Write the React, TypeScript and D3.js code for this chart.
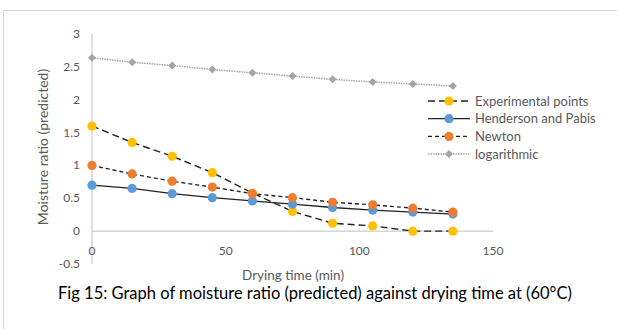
import * as d3 from 'd3';

// --- Data ---
const times = [0, 15, 30, 45, 60, 75, 90, 105, 120, 135];
const experimental = [1.6, 1.35, 1.14, 0.89, 0.58, 0.3, 0.12, 0.08, 0.0, 0.0];
const henderson = [0.7, 0.65, 0.57, 0.51, 0.46, 0.41, 0.36, 0.32, 0.29, 0.26];
const newton = [1.0, 0.87, 0.76, 0.67, 0.57, 0.51, 0.44, 0.4, 0.35, 0.29];
const logarithmic = [2.64, 2.57, 2.52, 2.46, 2.41, 2.36, 2.31, 2.27, 2.24, 2.21];

const yTicks = [-0.5, 0, 0.5, 1, 1.5, 2, 2.5, 3];
const xTicks = [0, 50, 100, 150];

const series = [
    { name: 'Experimental points', values: experimental, color: '#ffc000', dash: '7,4', line: '#222', width: 1.4, marker: 'circle' },
    { name: 'Henderson and Pabis', values: henderson, color: '#5b9bd5', dash: null, line: '#222', width: 1.3, marker: 'circle' },
    { name: 'Newton', values: newton, color: '#ed7d31', dash: '4,3', line: '#222', width: 1.4, marker: 'circle' },
    { name: 'logarithmic', values: logarithmic, color: '#a5a5a5', dash: '1.5,1', line: '#a5a5a5', width: 1.5, marker: 'diamond' },
];

// drawing order: grey first, then experimental, blue, orange on top
const drawOrder = [3, 0, 1, 2];

const font = 'Lato, "Open Sans", sans-serif';
const grey = '#595959';

const Marker = ({ kind, x, y, color }: { kind: string; x: number; y: number; color: string }) => {
    if (kind === 'diamond') {
        const s = 4;
        return <path d={`M${x},${y - s}L${x + s},${y}L${x},${y + s}L${x - s},${y}Z`} fill={color} />;
    }
    return <circle cx={x} cy={y} r={4.6} fill={color} />;
};

export default function App() {
    const x = d3.scaleLinear().domain([0, 150]).range([92, 493]);
    const y = d3.scaleLinear().domain([-0.5, 3]).range([264, 34]);

    const line = d3.line<number>()
        .x((_, i) => x(times[i]))
        .y(d => y(d));

    return (
        <svg width={617} height={329} style={{ position: 'absolute', left: 0, top: 0, background: '#fff' }}
             fontFamily={font}>
            <rect x={3.5} y={10.5} width={640} height={340} fill="#fff" stroke="#d9d9d9" />

            {/* axes */}
            <line x1={x(0)} x2={x(0)} y1={y(3)} y2={y(-0.5)} stroke="#bfbfbf" />
            <line x1={x(0)} x2={x(150)} y1={y(0)} y2={y(0)} stroke="#bfbfbf" />

            {yTicks.map(t => (
                <text key={t} x={80} y={y(t) + 4} textAnchor="end" fontSize={12} fill={grey}>{t}</text>
            ))}
            {xTicks.map(t => (
                <text key={t} x={x(t)} y={255} textAnchor="middle" fontSize={12} fill={grey}>{t}</text>
            ))}

            <text x={293} y={280} textAnchor="middle" fontSize={13.5} fill={grey}>Drying time (min)</text>
            <text transform="translate(48,147) rotate(-90)" textAnchor="middle" fontSize={14} fill={grey}>
                Moisture ratio (predicted)
            </text>

            {/* series */}
            {drawOrder.map(si => {
                const s = series[si];
                return (
                    <g key={s.name}>
                        <path d={line(s.values) || ''} fill="none" stroke={s.line} strokeWidth={s.width}
                              strokeDasharray={s.dash || undefined} />
                        {s.values.map((v, i) => (
                            <Marker key={i} kind={s.marker} x={x(times[i])} y={y(v)} color={s.color} />
                        ))}
                    </g>
                );
            })}

            {/* legend */}
            {series.map((s, i) => {
                const ly = 101 + i * 17.7;
                return (
                    <g key={s.name}>
                        <line x1={428} x2={470} y1={ly} y2={ly} stroke={s.line} strokeWidth={s.width}
                              strokeDasharray={s.dash || undefined} />
                        <Marker kind={s.marker} x={449} y={ly} color={s.color} />
                        <text x={475} y={ly + 4.5} fontSize={13} fill={grey}>{s.name}</text>
                    </g>
                );
            })}

            <text x={58} y={299} fontSize={16.5} fill="#000">
                Fig 15: Graph of moisture ratio (predicted) against drying time at (60°C)
            </text>
        </svg>
    );
}
